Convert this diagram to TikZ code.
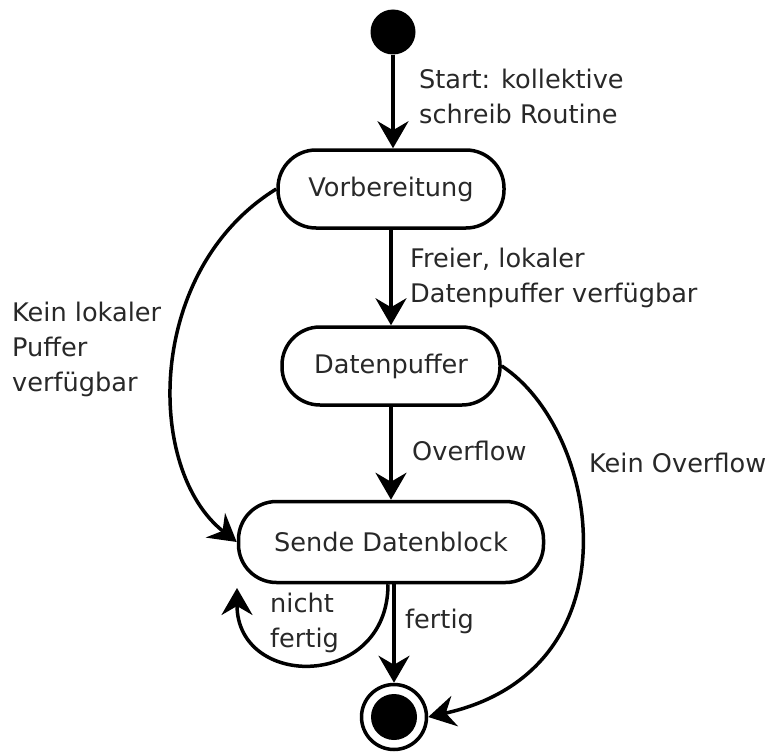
\documentclass[tikz,border=0pt]{standalone}
\usepackage{fontspec}
\setmainfont{DejaVu Sans}
\usetikzlibrary{arrows.meta}
\definecolor{labelgray}{RGB}{40,40,40}
\tikzset{
  zustand/.style={draw, rectangle, rounded corners=38pt, minimum height=78pt, line width=3.5pt, text=labelgray},
  lbl/.style={anchor=west, align=left, inner sep=0pt, text=labelgray},
  pfeil/.style={draw, line width=3.5pt, -{Stealth[length=27pt, width=31pt, inset=9pt]}}
}

\begin{document}
\begin{tikzpicture}[x=1pt, y=-1pt, font=\fontsize{25.6}{35}\selectfont]
\useasboundingbox (0,0) rectangle (766,752);
\node[circle, fill, minimum size=45pt, inner sep=0pt] (1) at (393,32) {};
\node[zustand, minimum width=226pt] (2) at (391,189) {Vorbereitung};
\node[zustand, minimum width=218pt] (3) at (391,366) {Datenpuffer};
\node[zustand, minimum width=305pt, minimum height=81pt] (4) at (391,542) {Sende Datenblock};
\node[draw, circle, line width=3.5pt, minimum size=65pt, inner sep=0pt] (6) at (394,717) {};
\node[circle, fill, minimum size=46pt, inner sep=0pt] (6a) at (6) {};
\coordinate (7) at (237,588);
\path[pfeil] (1) -- (1 |- 2.north);
\path[pfeil] (2) -- (3);
\path[pfeil] (3) -- (4);
\path[pfeil] (4.south -| 6) -- (6);
\path[pfeil] (2.west) .. controls (145,270) and (145,470) .. (4.west);
\path[pfeil] (3.east) .. controls (600,430) and (640,670) .. (6.east);
\path[pfeil] ([xshift=-3pt]4.south) .. controls (388,690) and (237,690) .. (7);
\node[lbl] (s) at (419,96) {Start: kollektive\\schreib Routine};
\node[lbl] (f) at (410,278) {Freier, lokaler\\Datenpuffer verfügbar};
\node[lbl] (k) at (12,349) {Kein lokaler\\Puffer\\verfügbar};
\node[lbl] (o) at (412,451) {Overflow};
\node[lbl] (ko) at (589,463) {Kein Overflow};
\node[lbl] (n) at (270,623) {nicht\\fertig};
\node[lbl] (e) at (405,621) {fertig};
\end{tikzpicture}
\end{document}
